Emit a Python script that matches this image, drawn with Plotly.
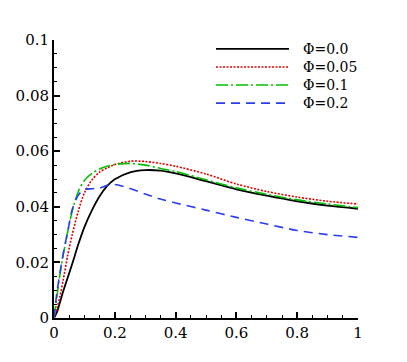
import plotly.graph_objects as go

x = [0, 0.01, 0.02, 0.03, 0.045, 0.06, 0.08, 0.1, 0.125, 0.15, 0.175, 0.2,
     0.25, 0.3, 0.35, 0.4, 0.5, 0.6, 0.7, 0.8, 0.9, 1.0]
phi_00 = [0, 0.0022, 0.0058, 0.0095, 0.0145, 0.0195, 0.0265, 0.0327, 0.0388, 0.0438,
          0.0475, 0.0499, 0.0524, 0.0532, 0.0530, 0.0520, 0.0492, 0.0463, 0.0440,
          0.0420, 0.0404, 0.0393]
phi_005 = [0, 0.0035, 0.0080, 0.0135, 0.0225, 0.0300, 0.0385, 0.0450, 0.0497, 0.0525,
           0.0540, 0.0552, 0.0564, 0.0563, 0.0556, 0.0546, 0.0518, 0.0482, 0.0455,
           0.0435, 0.0420, 0.0410]
phi_01 = [0, 0.0080, 0.0160, 0.0225, 0.0310, 0.0385, 0.0455, 0.0495, 0.0520, 0.0536,
          0.0546, 0.0552, 0.0556, 0.0550, 0.0538, 0.0527, 0.0497, 0.0468, 0.0445,
          0.0425, 0.0410, 0.0397]
phi_02 = [0, 0.0095, 0.0165, 0.0230, 0.0310, 0.0390, 0.0442, 0.0462, 0.0465, 0.0467,
          0.0477, 0.0480, 0.0466, 0.0446, 0.0428, 0.0414, 0.0388, 0.0362, 0.0338,
          0.0315, 0.0300, 0.0290]
labels = ["Φ=0.0", "Φ=0.05", "Φ=0.1", "Φ=0.2"]

series = [phi_00, phi_005, phi_01, phi_02]
colors = ["#000000", "#e00000", "#00c000", "#2a3cf0"]
dashes = ["solid", "2px,1.5px", "12px,3px,2px,3px", "9px,6px"]
widths = [1.8, 1.6, 1.6, 1.6]

FONT = "DejaVu Serif, serif"

fig = go.Figure()
for s, c, d, w, name in zip(series, colors, dashes, widths, labels):
    fig.add_trace(go.Scatter(x=x, y=s, mode="lines", name=name,
                             line=dict(color=c, dash=d, width=w, shape="spline", smoothing=0.8),
                             showlegend=False))

# manual legend (long line samples like the reference)
leg_y = [0.968, 0.903, 0.838, 0.773]
for yy, c, d, w, name in zip(leg_y, colors, dashes, widths, labels):
    fig.add_shape(type="line", xref="paper", yref="paper", x0=0.533, x1=0.773,
                  y0=yy, y1=yy, line=dict(color=c, dash=d, width=w))
    fig.add_annotation(xref="paper", yref="paper", x=0.8125, y=yy, text=name,
                       showarrow=False, xanchor="left", yanchor="middle",
                       font=dict(family=FONT, size=14, color="black"))

fig.update_layout(
    width=407, height=362,
    margin=dict(l=46, r=57, t=32, b=52),
    paper_bgcolor="white", plot_bgcolor="white",
    font=dict(family=FONT, size=15, color="black"),
)
fig.update_xaxes(range=[0, 1], dtick=0.2, tick0=0, showgrid=False, zeroline=False,
                 automargin=False,
                 showline=True, linecolor="black", linewidth=2,
                 ticks="inside", ticklen=6, tickwidth=1.5, tickcolor="black",
                 minor=dict(ticks="inside", dtick=0.05, ticklen=3, tickwidth=1, tickcolor="black"),
                 tickfont=dict(family=FONT, size=15))
fig.update_yaxes(range=[0, 0.1], dtick=0.02, tick0=0, showgrid=False, zeroline=False,
                 automargin=False,
                 showline=True, linecolor="black", linewidth=2,
                 ticks="inside", ticklen=6, tickwidth=1.5, tickcolor="black",
                 minor=dict(ticks="inside", dtick=0.005, ticklen=3, tickwidth=1, tickcolor="black"),
                 tickfont=dict(family=FONT, size=15))

fig.write_html("out.html")
